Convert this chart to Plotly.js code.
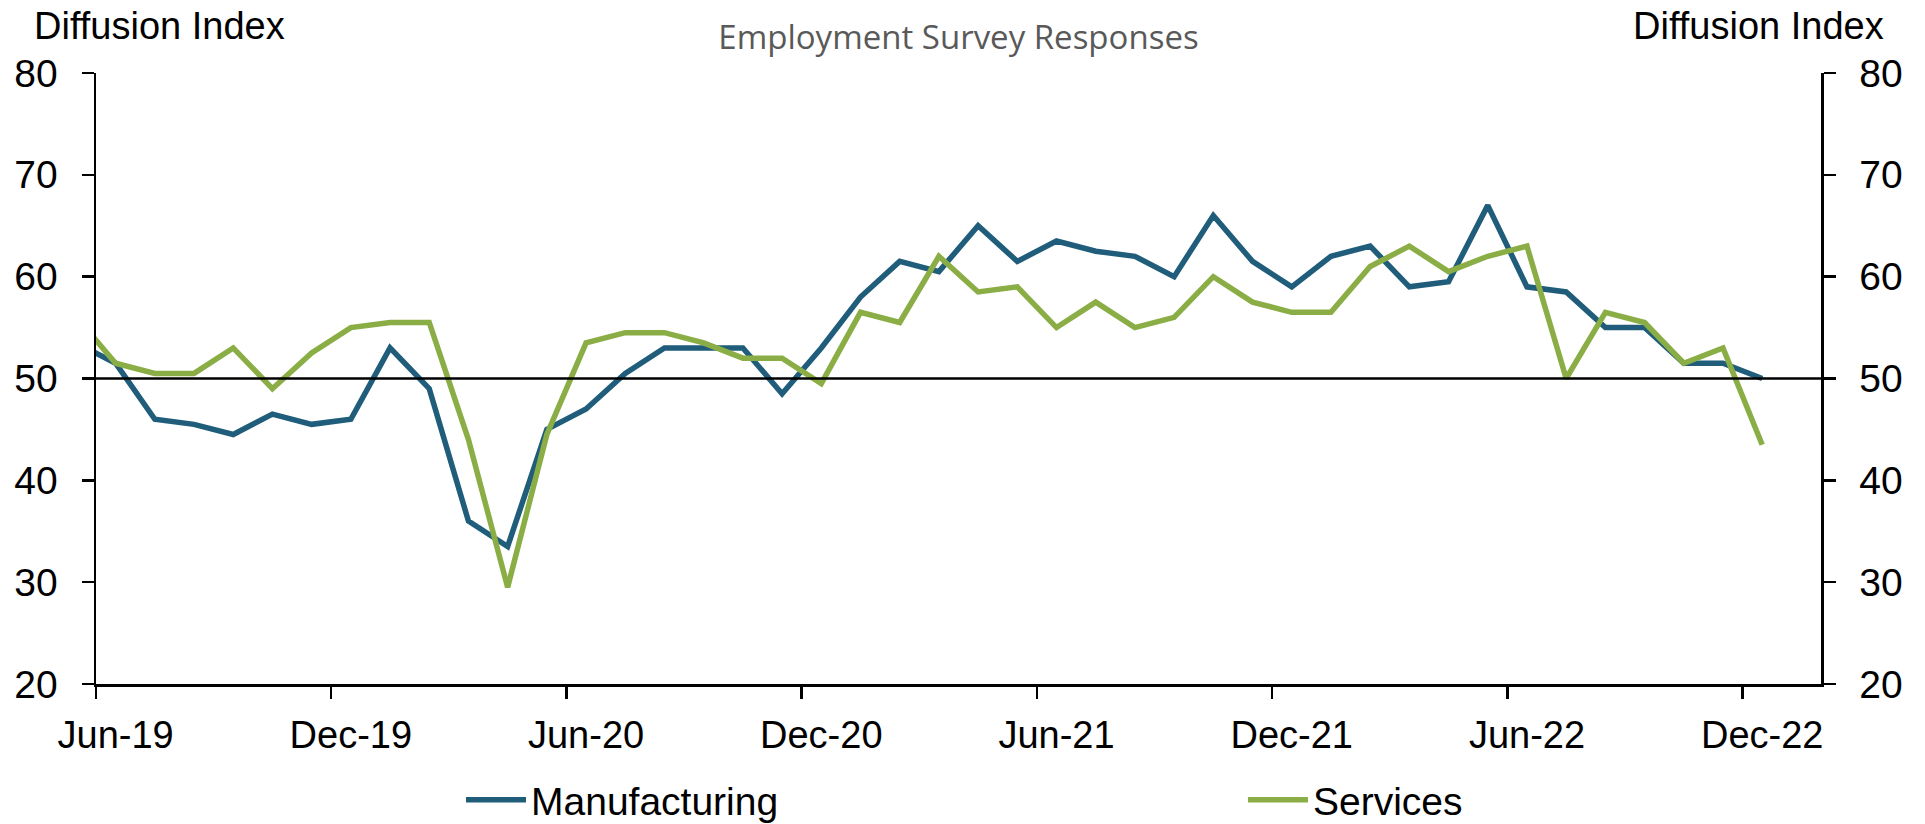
<!DOCTYPE html>
<html>
<head>
<meta charset="utf-8">
<script src="https://cdn.plot.ly/plotly-3.0.1.min.js"></script>
<style>
html, body { margin: 0; padding: 0; background: #ffffff; }
#chart { width: 1925px; height: 824px; }
</style>
</head>
<body>
<div id="chart"></div>
<script>
// ---- data ----
// first month (May-19) lies just before the visible range and is clipped by the axis
const months = [
  'May-19','Jun-19','Jul-19','Aug-19','Sep-19','Oct-19','Nov-19','Dec-19',
  'Jan-20','Feb-20','Mar-20','Apr-20','May-20','Jun-20','Jul-20','Aug-20','Sep-20','Oct-20','Nov-20','Dec-20',
  'Jan-21','Feb-21','Mar-21','Apr-21','May-21','Jun-21','Jul-21','Aug-21','Sep-21','Oct-21','Nov-21','Dec-21',
  'Jan-22','Feb-22','Mar-22','Apr-22','May-22','Jun-22','Jul-22','Aug-22','Sep-22','Oct-22','Nov-22','Dec-22'
];
const manufacturing = [
  53.5, 51.5, 46, 45.5, 44.5, 46.5, 45.5, 46,
  53, 49, 36, 33.5, 45, 47, 50.5, 53, 53, 53, 48.5, 53,
  58, 61.5, 60.5, 65, 61.5, 63.5, 62.5, 62, 60, 66, 61.5, 59,
  62, 63, 59, 59.5, 67, 59, 58.5, 55, 55, 51.5, 51.5, 50
];
const services = [
  56, 51.5, 50.5, 50.5, 53, 49, 52.5, 55,
  55.5, 55.5, 44, 29.5, 44.5, 53.5, 54.5, 54.5, 53.5, 52, 52, 49.5,
  56.5, 55.5, 62, 58.5, 59, 55, 57.5, 55, 56, 60, 57.5, 56.5,
  56.5, 61, 63, 60.5, 62, 63, 50, 56.5, 55.5, 51.5, 53, 43.5
];
const tickLabels = ['Jun-19','Dec-19','Jun-20','Dec-20','Jun-21','Dec-21','Jun-22','Dec-22'];
const yTicks = [20, 30, 40, 50, 60, 70, 80];
const referenceLevel = 50;

// ---- positions (month index on a linear axis) ----
const xPos = months.map((m, i) => i);
const labelPos = tickLabels.map(l => months.indexOf(l));
const boundaryPos = labelPos.map(p => p - 0.5);
const xRange = [0.5, months.length + 0.5];   // one empty month after the last point

const FONT = '"Liberation Sans", Arial, sans-serif';
const BLUE = '#1F5D7B';
const GREEN = '#8AAE45';

const traces = [
  {
    type: 'scatter', mode: 'lines', name: 'Manufacturing',
    x: xPos, y: manufacturing, xaxis: 'x', yaxis: 'y',
    line: { color: BLUE, width: 5.5 },
    legend: 'legend',
    hoverinfo: 'skip'
  },
  {
    type: 'scatter', mode: 'lines', name: 'Services',
    x: xPos, y: services, xaxis: 'x2', yaxis: 'y2',
    line: { color: GREEN, width: 5.5 },
    legend: 'legend2',
    hoverinfo: 'skip'
  }
];

const yCommon = {
  range: [yTicks[0], yTicks[yTicks.length - 1]],
  tickmode: 'array', tickvals: yTicks,
  ticks: 'outside', ticklen: 12, tickwidth: 2.5, tickcolor: '#000',
  showline: true, linecolor: '#000', linewidth: 2.5,
  showgrid: false, zeroline: false, automargin: false,
  tickfont: { family: FONT, size: 39, color: '#000' },
  ticklabelstandoff: 16,
  fixedrange: true
};

const legendCommon = {
  orientation: 'h', xref: 'paper', xanchor: 'left',
  yref: 'container', y: 0.0291, yanchor: 'middle',
  font: { family: FONT, size: 39, color: '#000' },
  itemwidth: 60, bgcolor: 'rgba(0,0,0,0)', borderwidth: 0
};

const layout = {
  width: 1925, height: 824,
  margin: { l: 96, r: 104, t: 73, b: 140, pad: 0, autoexpand: false },
  paper_bgcolor: '#ffffff', plot_bgcolor: 'rgba(0,0,0,0)',
  showlegend: true,
  legend: Object.assign({ x: 0.2116 }, legendCommon),
  legend2: Object.assign({ x: 0.6649 }, legendCommon),
  title: {
    text: 'Employment Survey Responses',
    font: { family: '"Open Sans", sans-serif', size: 33, color: '#595959' },
    x: 0.5, xref: 'paper', xanchor: 'center',
    y: 0.955, yref: 'container', yanchor: 'middle'
  },
  xaxis: {
    range: xRange, tickmode: 'array', tickvals: boundaryPos,
    ticks: 'outside', ticklen: 12, tickwidth: 2.5, tickcolor: '#000',
    showticklabels: false,
    showline: true, linecolor: '#000', linewidth: 2.5,
    showgrid: false, zeroline: false, automargin: false, fixedrange: true
  },
  xaxis2: {
    overlaying: 'x', anchor: 'y', side: 'bottom',
    range: xRange, tickmode: 'array', tickvals: labelPos, ticktext: tickLabels,
    ticks: 'outside', ticklen: 12, tickcolor: 'rgba(0,0,0,0)',
    tickfont: { family: FONT, size: 38, color: '#000' },
    ticklabelstandoff: 5,
    showline: false, showgrid: false, zeroline: false, automargin: false, fixedrange: true
  },
  yaxis: Object.assign({ side: 'left', anchor: 'x' }, yCommon),
  yaxis2: Object.assign({ side: 'right', anchor: 'x', overlaying: 'y' }, yCommon),
  shapes: [
    {
      type: 'line', xref: 'paper', x0: 0, x1: 1, yref: 'y', y0: referenceLevel, y1: referenceLevel,
      line: { color: '#000', width: 2.5 }, layer: 'above'
    }
  ],
  annotations: [
    {
      text: 'Diffusion Index', showarrow: false,
      xref: 'paper', x: -0.0371, xanchor: 'left',
      yref: 'paper', y: 1.0777, yanchor: 'middle',
      font: { family: FONT, size: 38, color: '#000' }
    },
    {
      text: 'Diffusion Index', showarrow: false,
      xref: 'paper', x: 1.0377, xanchor: 'right',
      yref: 'paper', y: 1.0777, yanchor: 'middle',
      font: { family: FONT, size: 38, color: '#000' }
    }
  ]
};

Plotly.newPlot('chart', traces, layout, { displayModeBar: false, staticPlot: true });
</script>
</body>
</html>
